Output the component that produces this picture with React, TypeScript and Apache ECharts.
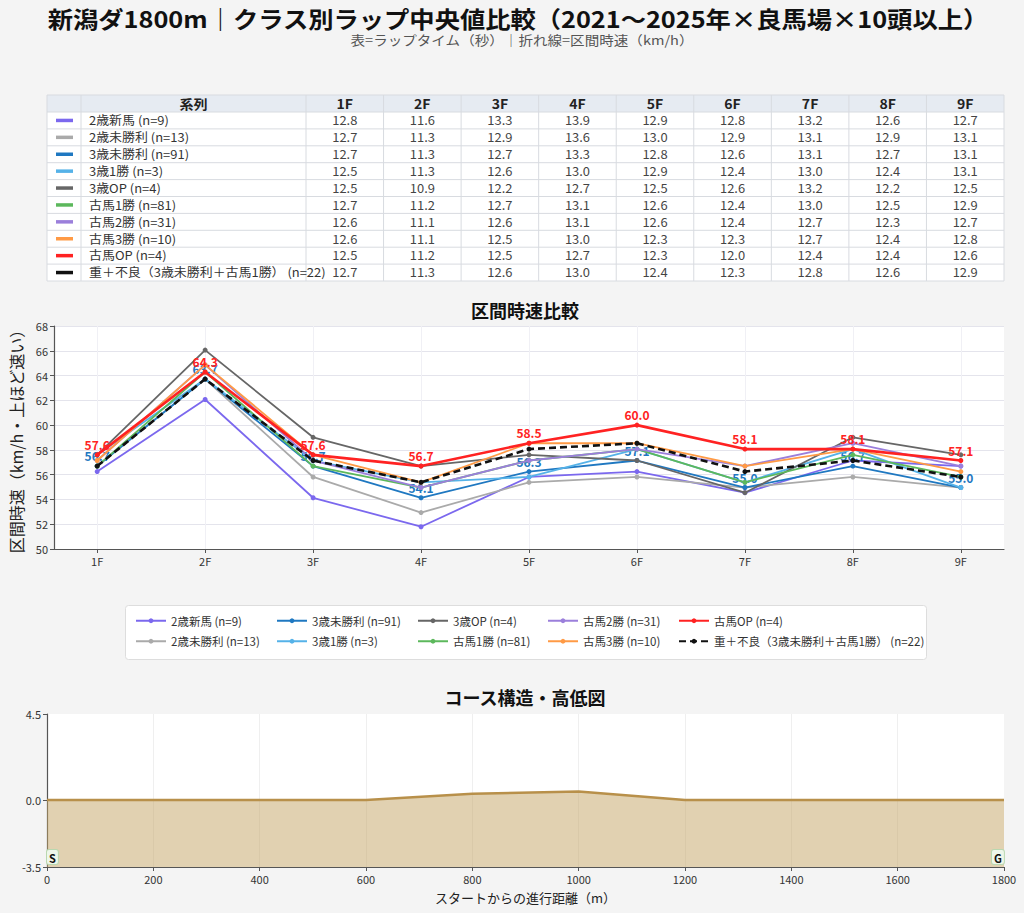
import React, { useEffect, useRef } from "react";
import * as echarts from "echarts";

const FONT = '"Noto Sans CJK JP", "Noto Sans", sans-serif';

// ---------- data ----------
const sections = ["1F", "2F", "3F", "4F", "5F", "6F", "7F", "8F", "9F"];

const seriesNames = [
  "2歳新馬 (n=9)",
  "2歳未勝利 (n=13)",
  "3歳未勝利 (n=91)",
  "3歳1勝 (n=3)",
  "3歳OP (n=4)",
  "古馬1勝 (n=81)",
  "古馬2勝 (n=31)",
  "古馬3勝 (n=10)",
  "古馬OP (n=4)",
  "重＋不良（3歳未勝利＋古馬1勝） (n=22)",
];

const seriesColors = [
  "#7b68ee",
  "#aaaaaa",
  "#1f78c1",
  "#55b2e8",
  "#666666",
  "#5cb85c",
  "#9b7fdb",
  "#ff9a45",
  "#ff2222",
  "#111111",
];

const lap2yoDebut = [12.8, 11.6, 13.3, 13.9, 12.9, 12.8, 13.2, 12.6, 12.7];
const lap2yoMaiden = [12.7, 11.3, 12.9, 13.6, 13.0, 12.9, 13.1, 12.9, 13.1];
const lap3yoMaiden = [12.7, 11.3, 12.7, 13.3, 12.8, 12.6, 13.1, 12.7, 13.1];
const lap3yo1Win = [12.5, 11.3, 12.6, 13.0, 12.9, 12.4, 13.0, 12.4, 13.1];
const lap3yoOP = [12.5, 10.9, 12.2, 12.7, 12.5, 12.6, 13.2, 12.2, 12.5];
const lapOlder1Win = [12.7, 11.2, 12.7, 13.1, 12.6, 12.4, 13.0, 12.5, 12.9];
const lapOlder2Win = [12.6, 11.1, 12.6, 13.1, 12.6, 12.4, 12.7, 12.3, 12.7];
const lapOlder3Win = [12.6, 11.1, 12.5, 13.0, 12.3, 12.3, 12.7, 12.4, 12.8];
const lapOlderOP = [12.5, 11.2, 12.5, 12.7, 12.3, 12.0, 12.4, 12.4, 12.6];
const lapHeavy = [12.7, 11.3, 12.6, 13.0, 12.4, 12.3, 12.8, 12.6, 12.9];

const lapRows = [
  lap2yoDebut,
  lap2yoMaiden,
  lap3yoMaiden,
  lap3yo1Win,
  lap3yoOP,
  lapOlder1Win,
  lapOlder2Win,
  lapOlder3Win,
  lapOlderOP,
  lapHeavy,
];

// series with value labels
const labeledSeries = [2, 8];

// course profile
const courseDistance = [0, 200, 400, 600, 800, 1000, 1200, 1400, 1600, 1800];
const courseElevation = [0, 0, 0, 0, 0.33, 0.45, 0, 0, 0, 0];
const distanceGrid = [200, 400, 600, 800, 1000, 1200, 1400, 1600];

const speedTicks = [50, 52, 54, 56, 58, 60, 62, 64, 66, 68];
const elevTicks = [-3.5, 0, 4.5];

// legend layout: columns (matplotlib fills column-major)
const legendColumns = [
  [0, 1],
  [2, 3],
  [4, 5],
  [6, 7],
  [8, 9],
];

// ---------- layout ----------
const W = 1024;
const H = 913;
const PLOT_L = 47;
const PLOT_R = 1004;

const TBL_TOP = 95;
const TBL_HEAD_H = 17;
const TBL_ROW_H = 16.9;
const TBL_COL0 = 47;
const TBL_COL1 = 81;
const TBL_COL2 = 306;

function cellText(
  text: string,
  x: number,
  y: number,
  align: string,
  size: number,
  bold: boolean,
  color: string,
  scaleX: number
) {
  return {
    type: "text",
    x,
    y,
    scaleX,
    scaleY: 1,
    style: {
      text,
      x: 0,
      y: 0,
      align,
      verticalAlign: "middle",
      fontFamily: FONT,
      fontSize: size,
      fontWeight: bold ? "bold" : "normal",
      fill: color,
    },
    z: 6,
  };
}

function buildTable() {
  const els: any[] = [];
  const nRows = lapRows.length;
  const bottom = TBL_TOP + TBL_HEAD_H + TBL_ROW_H * nRows;
  const valW = (PLOT_R - TBL_COL2) / sections.length;
  const edges = [TBL_COL0, TBL_COL1, TBL_COL2];
  for (let i = 1; i <= sections.length; i++) edges.push(TBL_COL2 + valW * i);
  const lineColor = "#d8dbe0";

  els.push({
    type: "rect",
    shape: { x: TBL_COL0, y: TBL_TOP, width: PLOT_R - TBL_COL0, height: bottom - TBL_TOP },
    style: { fill: "#ffffff" },
    z: 1,
  });
  els.push({
    type: "rect",
    shape: { x: TBL_COL0, y: TBL_TOP, width: PLOT_R - TBL_COL0, height: TBL_HEAD_H },
    style: { fill: "#e6ebf2" },
    z: 2,
  });
  for (let r = 0; r <= nRows + 1; r++) {
    const y = r === 0 ? TBL_TOP : TBL_TOP + TBL_HEAD_H + TBL_ROW_H * (r - 1);
    els.push({
      type: "line",
      shape: { x1: TBL_COL0, y1: y, x2: PLOT_R, y2: y },
      style: { stroke: lineColor, lineWidth: 1 },
      z: 3,
    });
  }
  edges.forEach((x) => {
    els.push({
      type: "line",
      shape: { x1: x, y1: TBL_TOP, x2: x, y2: bottom },
      style: { stroke: lineColor, lineWidth: 1 },
      z: 3,
    });
  });
  const headY = TBL_TOP + TBL_HEAD_H / 2;
  els.push(cellText("系列", (TBL_COL1 + TBL_COL2) / 2, headY, "center", 13, true, "#222", 1.08));
  sections.forEach((s, i) => {
    els.push(cellText(s, (edges[i + 2] + edges[i + 3]) / 2, headY, "center", 13, true, "#222", 1.08));
  });
  lapRows.forEach((row, r) => {
    const cy = TBL_TOP + TBL_HEAD_H + TBL_ROW_H * r + TBL_ROW_H / 2;
    els.push({
      type: "line",
      shape: { x1: 56, y1: cy, x2: 73, y2: cy },
      style: { stroke: seriesColors[r], lineWidth: 3.5 },
      z: 5,
    });
    els.push(cellText(seriesNames[r], 89, cy, "left", 12, false, "#333", 1.08));
    row.forEach((v, i) => {
      els.push(
        cellText(v.toFixed(1), (edges[i + 2] + edges[i + 3]) / 2, cy, "center", 12, false, "#444", 1.08)
      );
    });
  });
  return els;
}

function titleText(
  text: string,
  x: number,
  y: number,
  size: number,
  bold: boolean,
  color: string,
  scaleX = 1
) {
  const t: any = cellText(text, x, y, "center", size, bold, color, scaleX);
  t.z = 10;
  return t;
}

function buildOption(): any {
  const lineSeries = lapRows.map((laps, k) => {
    const color = seriesColors[k];
    const heavy = k === 9;
    const thick = k === 8 || k === 9;
    const s: any = {
      type: "line",
      name: seriesNames[k],
      xAxisIndex: 0,
      yAxisIndex: 0,
      data: laps.map((t, i) => [i, 720 / t]),
      symbol: "circle",
      symbolSize: 5,
      lineStyle: { color, width: thick ? 2.6 : 1.8, type: heavy ? [7, 4] : "solid" },
      itemStyle: { color },
      emphasis: { disabled: true },
      z: 2 + k * 0.1,
    };
    if (labeledSeries.includes(k)) {
      s.label = {
        show: true,
        position: "top",
        distance: 2,
        color,
        fontFamily: FONT,
        fontSize: 12,
        fontWeight: "bold",
        formatter: (p: any) => p.value[1].toFixed(1),
      };
    }
    return s;
  });

  const legends = legendColumns.map((col, c) => ({
    orient: "vertical",
    left: [135, 276, 417, 547, 678][c],
    top: 615,
    padding: 0,
    itemWidth: 30,
    itemHeight: 6,
    itemGap: 9,
    selectedMode: false,
    data: col.map((k) => seriesNames[k]),
    textStyle: { fontFamily: FONT, fontSize: 11.5, color: "#333" },
  }));

  return {
    animation: false,
    backgroundColor: "#f4f4f4",
    textStyle: { fontFamily: FONT },
    legend: legends,
    grid: [
      {
        left: PLOT_L,
        right: W - PLOT_R,
        top: 326,
        height: 223,
        show: true,
        backgroundColor: "#ffffff",
        borderWidth: 0,
      },
      {
        left: PLOT_L,
        right: W - PLOT_R,
        top: 714,
        height: 153,
        show: true,
        backgroundColor: "#ffffff",
        borderWidth: 0,
      },
    ],
    xAxis: [
      {
        type: "value",
        gridIndex: 0,
        min: -0.4,
        max: 8.4,
        axisLine: { show: true, onZero: false, lineStyle: { color: "#555", width: 1.2 } },
        axisTick: {
          show: true,
          length: 4,
          customValues: sections.map((_, i) => i),
          lineStyle: { color: "#555" },
        },
        axisLabel: {
          customValues: sections.map((_, i) => i),
          formatter: (v: number) => sections[Math.round(v)] ?? "",
          color: "#333",
          fontSize: 11,
          fontFamily: FONT,
          margin: 6,
        },
        splitLine: { show: true, lineStyle: { color: "#f0f0f5", width: 1 } },
      },
      {
        type: "value",
        gridIndex: 1,
        min: 0,
        max: 1800,
        interval: 200,
        name: "スタートからの進行距離（m）",
        nameLocation: "middle",
        nameGap: 24,
        nameTextStyle: { fontFamily: FONT, fontSize: 13, color: "#222" },
        axisLine: { show: true, onZero: false, lineStyle: { color: "#555", width: 1.2 } },
        axisTick: { show: true, length: 4, lineStyle: { color: "#555" } },
        axisLabel: {
          color: "#333",
          fontSize: 11,
          fontFamily: FONT,
          margin: 6,
          formatter: (v: number) => String(v),
        },
        splitLine: { show: false },
      },
    ],
    yAxis: [
      {
        type: "value",
        gridIndex: 0,
        min: 50,
        max: 68,
        interval: 2,
        name: "区間時速（km/h・上ほど速い）",
        nameLocation: "middle",
        nameGap: 30,
        nameRotate: 90,
        nameTextStyle: { fontFamily: FONT, fontSize: 16, color: "#222" },
        axisLine: { show: true, onZero: false, lineStyle: { color: "#555", width: 1.2 } },
        axisTick: { show: true, length: 4, lineStyle: { color: "#555" } },
        axisLabel: {
          color: "#333",
          fontSize: 11,
          fontFamily: FONT,
          margin: 6,
          customValues: speedTicks,
        },
        splitLine: { show: true, lineStyle: { color: "#e4e4ec", width: 1 } },
      },
      {
        type: "value",
        gridIndex: 1,
        min: -3.5,
        max: 4.5,
        axisLine: { show: true, onZero: false, lineStyle: { color: "#555", width: 1.2 } },
        axisTick: { show: true, length: 4, customValues: elevTicks, lineStyle: { color: "#555" } },
        axisLabel: {
          customValues: elevTicks,
          formatter: (v: number) => v.toFixed(1),
          color: "#333",
          fontSize: 11,
          fontFamily: FONT,
          margin: 6,
        },
        splitLine: { show: false },
      },
    ],
    series: [
      ...lineSeries,
      {
        type: "line",
        name: "elevation",
        xAxisIndex: 1,
        yAxisIndex: 1,
        data: courseDistance.map((d, i) => [d, courseElevation[i]]),
        symbol: "none",
        lineStyle: { color: "#b8904a", width: 2.5 },
        areaStyle: { color: "rgb(196,164,100)", opacity: 0.5, origin: "start" },
        emphasis: { disabled: true },
        markLine: {
          silent: true,
          symbol: "none",
          label: { show: false },
          lineStyle: { color: "#ececec", width: 1, type: "solid", opacity: 0.85 },
          data: distanceGrid.map((d) => ({ xAxis: d })),
          z: 1,
        },
        markPoint: {
          symbol: "rect",
          symbolSize: 0,
          silent: true,
          label: {
            show: true,
            fontFamily: FONT,
            fontSize: 11,
            fontWeight: "bold",
            color: "#111",
            backgroundColor: "#eef6ea",
            borderColor: "#b9d8b0",
            borderWidth: 1,
            borderRadius: 2,
            padding: [2, 2, 1, 2],
          },
          data: [
            {
              coord: [courseDistance[0], elevTicks[0]],
              label: { formatter: "S", position: [0, -17] },
            },
            {
              coord: [courseDistance[courseDistance.length - 1], elevTicks[0]],
              label: { formatter: "G", position: [-12, -17] },
            },
          ],
        },
      },
    ],
    graphic: [
      titleText(
        "新潟ダ1800m｜クラス別ラップ中央値比較（2021〜2025年×良馬場×10頭以上）",
        518,
        18,
        23,
        true,
        "#111",
        1.1
      ),
      titleText("表=ラップタイム（秒）｜折れ線=区間時速（km/h）", 522, 39, 13, false, "#555", 1.12),
      titleText("区間時速比較", 525, 310, 18, true, "#111"),
      titleText("コース構造・高低図", 525, 697, 18, true, "#111"),
      {
        type: "rect",
        shape: { x: 125.5, y: 605.5, width: 801, height: 54, r: 3 },
        style: { fill: "#ffffff", stroke: "#dddddd", lineWidth: 1 },
        z: -1,
      },
      ...buildTable(),
    ],
  };
}

export default function App() {
  const ref = useRef<HTMLDivElement>(null);
  useEffect(() => {
    if (!ref.current) return;
    const chart = echarts.init(ref.current, undefined, { renderer: "svg" });
    chart.setOption(buildOption());
    return () => chart.dispose();
  }, []);
  return (
    <div
      ref={ref}
      style={{ position: "absolute", left: 0, top: 0, width: W, height: H, background: "#f4f4f4" }}
    />
  );
}
